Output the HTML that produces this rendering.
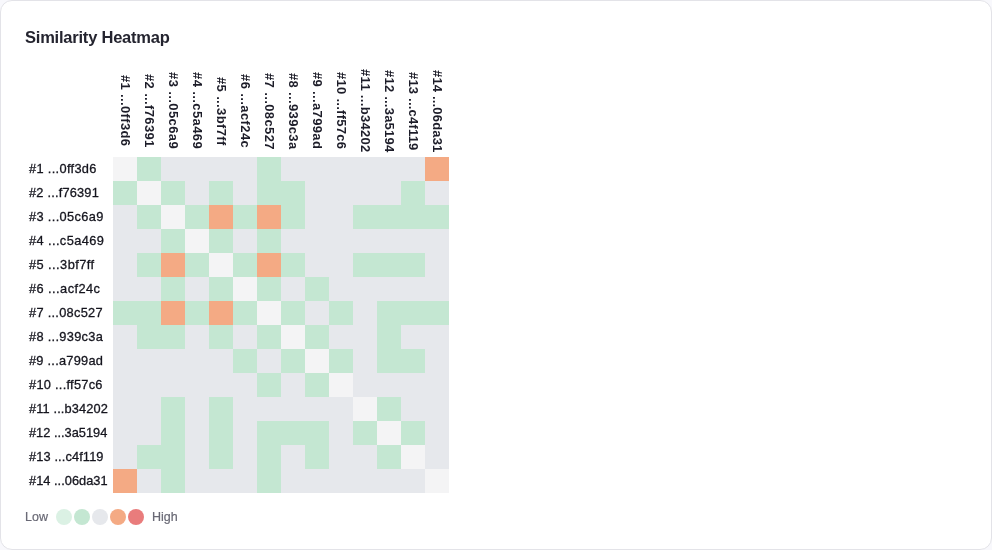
<!DOCTYPE html>
<html lang="en">
<head>
<meta charset="utf-8">
<title>Similarity Heatmap</title>
<style>
html,body{margin:0;padding:0;}
body{width:992px;height:550px;overflow:hidden;background:#f8f8fc;font-family:"Liberation Sans",sans-serif;color:#1d1d29;}
.card{position:absolute;left:0;top:0;width:992px;height:550px;box-sizing:border-box;border:1px solid #e3e3e8;border-radius:12px;background:#fff;padding:24px;}
h3{margin:0 0 16px 0;font-size:16.5px;line-height:24px;font-weight:700;color:#1d1d29;letter-spacing:-0.22px;white-space:nowrap;position:relative;top:0px;left:0px;color:#24242f;}
.hm{display:grid;grid-template-columns:88px repeat(14,24px);grid-template-rows:92px repeat(14,24px);}
.ch{display:flex;align-items:center;justify-content:center;overflow:visible;}
.ch span{writing-mode:vertical-rl;font-size:13px;font-weight:700;white-space:nowrap;line-height:24px;}
.rh{font-size:12.8px;line-height:24px;padding-left:4px;white-space:nowrap;color:#15151e;-webkit-text-stroke:0.3px #15151e;}
.c{width:24px;height:24px;}
.d{background:#f4f4f5;}
.g{background:#c4e7d2;}
.x{background:#e6e8ec;}
.o{background:#f4aa84;}
.legend{display:flex;align-items:center;gap:8px;margin-top:16px;height:16px;font-size:12.5px;color:#696975;-webkit-text-stroke:0.2px #696975;line-height:16px;}
.dots{display:flex;gap:2px;}
.dots i{display:block;width:16px;height:16px;border-radius:50%;}
</style>
</head>
<body>
<div class="card">
<h3>Similarity Heatmap</h3>
<div class="hm">
<div class="corner"></div>
<div class="ch"><span style="letter-spacing:0.35px">#1 ...0ff3d6</span></div>
<div class="ch"><span style="letter-spacing:0.36px">#2 ...f76391</span></div>
<div class="ch"><span style="letter-spacing:0.40px">#3 ...05c6a9</span></div>
<div class="ch"><span style="letter-spacing:0.40px">#4 ...c5a469</span></div>
<div class="ch"><span style="letter-spacing:0.36px">#5 ...3bf7ff</span></div>
<div class="ch"><span style="letter-spacing:0.40px">#6 ...acf24c</span></div>
<div class="ch"><span style="letter-spacing:0.38px">#7 ...08c527</span></div>
<div class="ch"><span style="letter-spacing:0.35px">#8 ...939c3a</span></div>
<div class="ch"><span style="letter-spacing:0.35px">#9 ...a799ad</span></div>
<div class="ch"><span style="letter-spacing:0.28px">#10 ...ff57c6</span></div>
<div class="ch"><span style="letter-spacing:0.32px">#11 ...b34202</span></div>
<div class="ch"><span style="letter-spacing:0.22px">#12 ...3a5194</span></div>
<div class="ch"><span style="letter-spacing:0.20px">#13 ...c4f119</span></div>
<div class="ch"><span style="letter-spacing:0.17px">#14 ...06da31</span></div>
<div class="rh" style="letter-spacing:0.33px">#1 ...0ff3d6</div>
<div class="c d"></div><div class="c g"></div><div class="c x"></div><div class="c x"></div><div class="c x"></div><div class="c x"></div><div class="c g"></div><div class="c x"></div><div class="c x"></div><div class="c x"></div><div class="c x"></div><div class="c x"></div><div class="c x"></div><div class="c o"></div>
<div class="rh" style="letter-spacing:0.20px">#2 ...f76391</div>
<div class="c g"></div><div class="c d"></div><div class="c g"></div><div class="c x"></div><div class="c g"></div><div class="c x"></div><div class="c g"></div><div class="c g"></div><div class="c x"></div><div class="c x"></div><div class="c x"></div><div class="c x"></div><div class="c g"></div><div class="c x"></div>
<div class="rh" style="letter-spacing:0.35px">#3 ...05c6a9</div>
<div class="c x"></div><div class="c g"></div><div class="c d"></div><div class="c g"></div><div class="c o"></div><div class="c g"></div><div class="c o"></div><div class="c g"></div><div class="c x"></div><div class="c x"></div><div class="c g"></div><div class="c g"></div><div class="c g"></div><div class="c g"></div>
<div class="rh" style="letter-spacing:0.40px">#4 ...c5a469</div>
<div class="c x"></div><div class="c x"></div><div class="c g"></div><div class="c d"></div><div class="c g"></div><div class="c x"></div><div class="c g"></div><div class="c x"></div><div class="c x"></div><div class="c x"></div><div class="c x"></div><div class="c x"></div><div class="c x"></div><div class="c x"></div>
<div class="rh" style="letter-spacing:0.44px">#5 ...3bf7ff</div>
<div class="c x"></div><div class="c g"></div><div class="c o"></div><div class="c g"></div><div class="c d"></div><div class="c g"></div><div class="c o"></div><div class="c g"></div><div class="c x"></div><div class="c x"></div><div class="c g"></div><div class="c g"></div><div class="c g"></div><div class="c x"></div>
<div class="rh" style="letter-spacing:0.44px">#6 ...acf24c</div>
<div class="c x"></div><div class="c x"></div><div class="c g"></div><div class="c x"></div><div class="c g"></div><div class="c d"></div><div class="c g"></div><div class="c x"></div><div class="c g"></div><div class="c x"></div><div class="c x"></div><div class="c x"></div><div class="c x"></div><div class="c x"></div>
<div class="rh" style="letter-spacing:0.29px">#7 ...08c527</div>
<div class="c g"></div><div class="c g"></div><div class="c o"></div><div class="c g"></div><div class="c o"></div><div class="c g"></div><div class="c d"></div><div class="c g"></div><div class="c x"></div><div class="c g"></div><div class="c x"></div><div class="c g"></div><div class="c g"></div><div class="c g"></div>
<div class="rh" style="letter-spacing:0.31px">#8 ...939c3a</div>
<div class="c x"></div><div class="c g"></div><div class="c g"></div><div class="c x"></div><div class="c g"></div><div class="c x"></div><div class="c g"></div><div class="c d"></div><div class="c g"></div><div class="c x"></div><div class="c x"></div><div class="c g"></div><div class="c x"></div><div class="c x"></div>
<div class="rh" style="letter-spacing:0.25px">#9 ...a799ad</div>
<div class="c x"></div><div class="c x"></div><div class="c x"></div><div class="c x"></div><div class="c x"></div><div class="c g"></div><div class="c x"></div><div class="c g"></div><div class="c d"></div><div class="c g"></div><div class="c x"></div><div class="c g"></div><div class="c g"></div><div class="c x"></div>
<div class="rh" style="letter-spacing:0.27px">#10 ...ff57c6</div>
<div class="c x"></div><div class="c x"></div><div class="c x"></div><div class="c x"></div><div class="c x"></div><div class="c x"></div><div class="c g"></div><div class="c x"></div><div class="c g"></div><div class="c d"></div><div class="c x"></div><div class="c x"></div><div class="c x"></div><div class="c x"></div>
<div class="rh" style="letter-spacing:0.13px">#11 ...b34202</div>
<div class="c x"></div><div class="c x"></div><div class="c g"></div><div class="c x"></div><div class="c g"></div><div class="c x"></div><div class="c x"></div><div class="c x"></div><div class="c x"></div><div class="c x"></div><div class="c d"></div><div class="c g"></div><div class="c x"></div><div class="c x"></div>
<div class="rh" style="letter-spacing:0.00px">#12 ...3a5194</div>
<div class="c x"></div><div class="c x"></div><div class="c g"></div><div class="c x"></div><div class="c g"></div><div class="c x"></div><div class="c g"></div><div class="c g"></div><div class="c g"></div><div class="c x"></div><div class="c g"></div><div class="c d"></div><div class="c g"></div><div class="c x"></div>
<div class="rh" style="letter-spacing:0.12px">#13 ...c4f119</div>
<div class="c x"></div><div class="c g"></div><div class="c g"></div><div class="c x"></div><div class="c g"></div><div class="c x"></div><div class="c g"></div><div class="c x"></div><div class="c g"></div><div class="c x"></div><div class="c x"></div><div class="c g"></div><div class="c d"></div><div class="c x"></div>
<div class="rh" style="letter-spacing:0.03px">#14 ...06da31</div>
<div class="c o"></div><div class="c x"></div><div class="c g"></div><div class="c x"></div><div class="c x"></div><div class="c x"></div><div class="c g"></div><div class="c x"></div><div class="c x"></div><div class="c x"></div><div class="c x"></div><div class="c x"></div><div class="c x"></div><div class="c d"></div>
</div>
<div class="legend"><span>Low</span><div class="dots"><i style="background:#dbf1e4"></i><i style="background:#c4e7d2"></i><i style="background:#e6e8ec"></i><i style="background:#f4aa84"></i><i style="background:#e97c7c"></i></div><span>High</span></div>
</div>
</body>
</html>
